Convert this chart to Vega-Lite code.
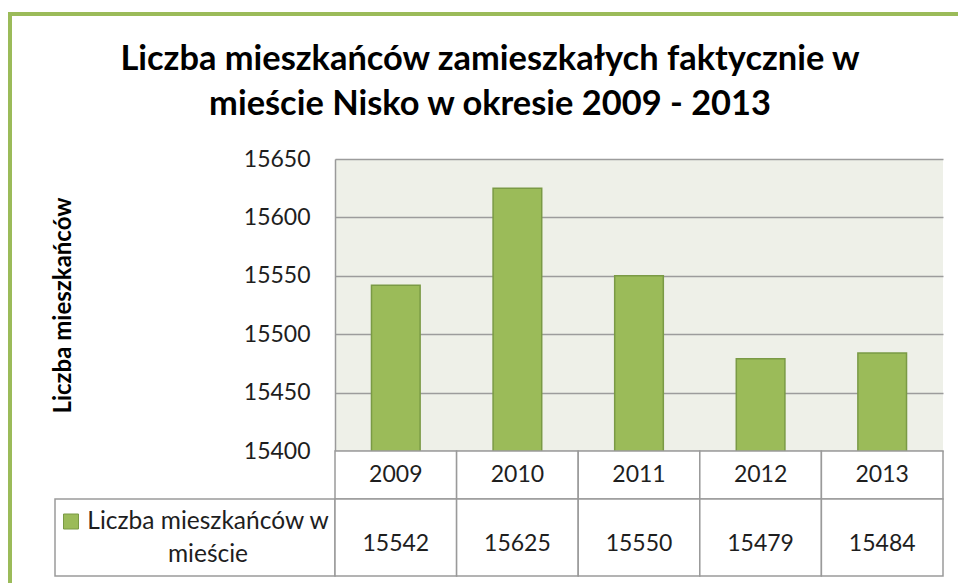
{
  "$schema": "https://vega.github.io/schema/vega-lite/v6.json",
  "padding": {"left": 8, "top": 12, "right": 0, "bottom": 0},
  "background": "white",
  "datasets": {
    "d": [
      {"year": "2009", "value": 15542},
      {"year": "2010", "value": 15625},
      {"year": "2011", "value": 15550},
      {"year": "2012", "value": 15479},
      {"year": "2013", "value": 15484}
    ],
    "one": [{"series": "Liczba mieszkańców w mieście"}]
  },
  "columns": 5,
  "spacing": 0,
  "bounds": "flush",
  "config": {"view": {"stroke": null}},
  "concat": [
    {"width": 4, "height": 4, "data": {"name": "one"}, "mark": {"type": "rect", "color": "#9BBB59"}, "encoding": {}},
    {"width": 43, "height": 4, "data": {"name": "one"}, "mark": {"type": "rect", "color": "#9BBB59"}, "encoding": {}},
    {"width": 280, "height": 4, "data": {"name": "one"}, "mark": {"type": "rect", "color": "#9BBB59"}, "encoding": {}},
    {"width": 608, "height": 4, "data": {"name": "one"}, "mark": {"type": "rect", "color": "#9BBB59"}, "encoding": {}},
    {"width": 15, "height": 4, "data": {"name": "one"}, "mark": {"type": "rect", "color": "#9BBB59"}, "encoding": {}},

    {"width": 4, "height": 143, "data": {"name": "one"}, "mark": {"type": "rect", "color": "#9BBB59"}, "encoding": {}},
    {"width": 43, "height": 143, "data": {"name": "one"}, "mark": {"type": "rect", "opacity": 0}, "encoding": {}},
    {"width": 280, "height": 143, "data": {"name": "one"}, "mark": {"type": "rect", "opacity": 0}, "encoding": {}},
    {"width": 608, "height": 143, "data": {"name": "one"}, "mark": {"type": "rect", "opacity": 0}, "encoding": {}},
    {"width": 15, "height": 143, "data": {"name": "one"}, "mark": {"type": "rect", "opacity": 0}, "encoding": {}},

    {"width": 4, "height": 292, "data": {"name": "one"}, "mark": {"type": "rect", "color": "#9BBB59"}, "encoding": {}},
    {"width": 43, "height": 292, "data": {"name": "one"}, "mark": {"type": "rect", "opacity": 0}, "encoding": {}},
    {"width": 280, "height": 292, "data": {"name": "one"}, "mark": {"type": "rect", "opacity": 0}, "encoding": {}},
    {
      "width": 608,
      "height": 292,
      "data": {"name": "d"},
      "view": {"fill": "#EEF0E8", "stroke": null},
      "title": {
        "text": ["Liczba mieszkańców zamieszkałych faktycznie w", "mieście Nisko w okresie 2009 - 2013"],
        "font": "Lato",
        "fontSize": 34.4,
        "fontWeight": "bold",
        "lineHeight": 45,
        "color": "#000000",
        "anchor": "middle",
        "dx": -149,
        "offset": 26
      },
      "mark": {"type": "bar", "color": "#9BBB59", "stroke": "#7A9A45", "strokeWidth": 1.5, "clip": true},
      "encoding": {
        "x": {
          "field": "year",
          "type": "ordinal",
          "scale": {"paddingInner": 0.6, "paddingOuter": 0.3},
          "axis": null
        },
        "y": {
          "field": "value",
          "type": "quantitative",
          "scale": {"domain": [15400, 15650], "zero": false, "nice": false},
          "axis": {
            "values": [15400, 15450, 15500, 15550, 15600, 15650],
            "format": "d",
            "ticks": false,
            "domainColor": "#9A9A9A",
            "domainWidth": 1.5,
            "gridColor": "#9C9C9C",
            "gridWidth": 1.5,
            "labelFont": "Lato",
            "labelFontSize": 23,
            "labelColor": "#1E1E1E",
            "labelPadding": 25,
            "title": "Liczba mieszkańców",
            "titleFont": "Lato",
            "titleFontSize": 24,
            "titleFontWeight": "bold",
            "titleColor": "#000000",
            "titlePadding": 168
          }
        }
      }
    },
    {"width": 15, "height": 292, "data": {"name": "one"}, "mark": {"type": "rect", "opacity": 0}, "encoding": {}},

    {"width": 4, "height": 48, "data": {"name": "one"}, "mark": {"type": "rect", "color": "#9BBB59"}, "encoding": {}},
    {"width": 43, "height": 48, "data": {"name": "one"}, "mark": {"type": "rect", "opacity": 0}, "encoding": {}},
    {"width": 280, "height": 48, "data": {"name": "one"}, "mark": {"type": "rect", "opacity": 0}, "encoding": {}},
    {
      "width": 608,
      "height": 48,
      "data": {"name": "d"},
      "encoding": {
        "x": {"field": "year", "type": "ordinal", "scale": {"paddingInner": 0, "paddingOuter": 0}, "axis": null}
      },
      "layer": [
        {"mark": {"type": "rect", "fill": "white", "stroke": "#9A9A9A", "strokeWidth": 1.5}},
        {"mark": {"type": "text", "font": "Lato", "fontSize": 23, "color": "#1E1E1E", "baseline": "middle", "align": "center"}, "encoding": {"text": {"field": "year"}}}
      ]
    },
    {"width": 15, "height": 48, "data": {"name": "one"}, "mark": {"type": "rect", "opacity": 0}, "encoding": {}},

    {"width": 4, "height": 77, "data": {"name": "one"}, "mark": {"type": "rect", "color": "#9BBB59"}, "encoding": {}},
    {"width": 43, "height": 77, "data": {"name": "one"}, "mark": {"type": "rect", "opacity": 0}, "encoding": {}},
    {
      "width": 280,
      "height": 77,
      "data": {"name": "one"},
      "layer": [
        {"mark": {"type": "rect", "fill": "white", "stroke": "#9A9A9A", "strokeWidth": 1.5}, "encoding": {}},
        {"mark": {"type": "point", "shape": "square", "size": 225, "filled": true, "fill": "#9BBB59", "stroke": "#7A9A45", "strokeWidth": 1, "opacity": 1, "xOffset": -124, "yOffset": -16}, "encoding": {}},
        {"mark": {"type": "text", "font": "Lato", "fontSize": 24.5, "color": "#1E1E1E", "baseline": "middle", "align": "center", "lineHeight": 33, "dx": 13, "dy": -16, "text": ["Liczba mieszkańców w", "mieście"]}, "encoding": {}}
      ]
    },
    {
      "width": 608,
      "height": 77,
      "data": {"name": "d"},
      "encoding": {
        "x": {"field": "year", "type": "ordinal", "scale": {"paddingInner": 0, "paddingOuter": 0}, "axis": null}
      },
      "layer": [
        {"mark": {"type": "rect", "fill": "white", "stroke": "#9A9A9A", "strokeWidth": 1.5}},
        {"mark": {"type": "text", "font": "Lato", "fontSize": 23, "color": "#1E1E1E", "baseline": "middle", "align": "center", "dy": 6}, "encoding": {"text": {"field": "value", "type": "quantitative", "format": "d"}}}
      ]
    },
    {"width": 15, "height": 77, "data": {"name": "one"}, "mark": {"type": "rect", "opacity": 0}, "encoding": {}},

    {"width": 4, "height": 7, "data": {"name": "one"}, "mark": {"type": "rect", "color": "#9BBB59"}, "encoding": {}},
    {"width": 43, "height": 7, "data": {"name": "one"}, "mark": {"type": "rect", "opacity": 0}, "encoding": {}},
    {"width": 280, "height": 7, "data": {"name": "one"}, "mark": {"type": "rect", "opacity": 0}, "encoding": {}},
    {"width": 608, "height": 7, "data": {"name": "one"}, "mark": {"type": "rect", "opacity": 0}, "encoding": {}},
    {"width": 15, "height": 7, "data": {"name": "one"}, "mark": {"type": "rect", "opacity": 0}, "encoding": {}}
  ]
}
